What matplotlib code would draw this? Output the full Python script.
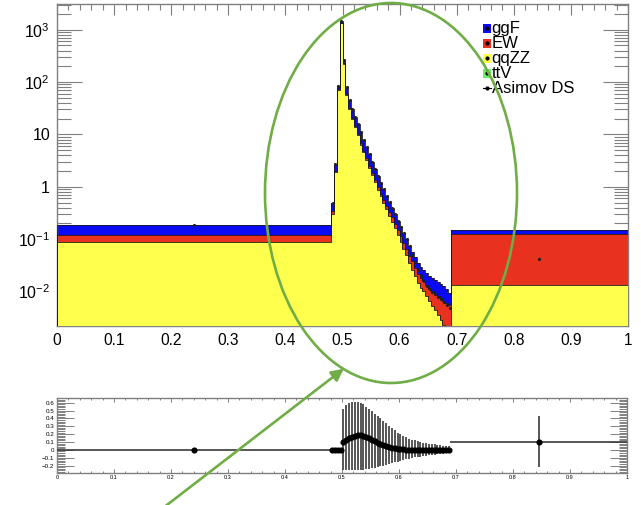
import numpy as np
import matplotlib
matplotlib.use('Agg')
import matplotlib.pyplot as plt
from matplotlib.patches import Ellipse, Rectangle, FancyArrowPatch
from matplotlib.ticker import FixedLocator, FixedFormatter, MultipleLocator, NullFormatter, FuncFormatter

plt.rcParams['font.family'] = ['Liberation Sans', 'DejaVu Sans']
plt.rcParams['mathtext.fontset'] = 'custom'
plt.rcParams['mathtext.rm'] = 'Liberation Sans'
plt.rcParams['mathtext.it'] = 'Liberation Sans:italic'
plt.rcParams['mathtext.bf'] = 'Liberation Sans:bold'

# ---------------- data ----------------
bin_edges = [0.0, 0.48, 0.485, 0.49, 0.495, 0.50, 0.505, 0.51, 0.515, 0.52, 0.525,
             0.53, 0.535, 0.54, 0.545, 0.55, 0.555, 0.56, 0.565, 0.57, 0.575,
             0.58, 0.585, 0.59, 0.595, 0.60, 0.605, 0.61, 0.615, 0.62, 0.625,
             0.63, 0.635, 0.64, 0.645, 0.65, 0.655, 0.66, 0.665, 0.67, 0.675,
             0.68, 0.685, 0.69, 1.0]

qqZZ = [0.089,
        0.30, 1.9, 72, 1320, 226, 57.6, 30.6, 19.5, 13.6, 9.6,
        6.4, 4.56, 3.25, 2.31, 1.65, 1.21, 0.88, 0.66, 0.495, 0.374,
        0.281, 0.216, 0.162, 0.119, 0.090, 0.066, 0.049, 0.035, 0.026, 0.0198,
        0.0147, 0.0119, 0.0101, 0.0083, 0.0066, 0.0054, 0.0045, 0.0036, 0.0029, 0.00225,
        0.00176, 0.00133,
        0.0134]
EW = [0.030,
      0.05, 0.14, 2.6, 30, 5.2, 1.6, 1.35, 0.9, 0.66, 0.48,
      0.44, 0.32, 0.29, 0.21, 0.18, 0.13, 0.11, 0.084, 0.072, 0.061,
      0.052, 0.044, 0.036, 0.029, 0.024, 0.0195, 0.017, 0.0135, 0.0116, 0.009,
      0.0074, 0.0061, 0.0057, 0.0053, 0.0048, 0.0047, 0.0046, 0.0045, 0.0046, 0.0045,
      0.0044, 0.0042,
      0.112]
ggF = [0.066,
       0.15, 0.66, 10.4, 150, 28.8, 20.8, 13.05, 9.6, 7.7, 5.9,
       4.2, 3.1, 2.26, 1.68, 1.17, 0.86, 0.61, 0.456, 0.333, 0.245,
       0.187, 0.14, 0.102, 0.072, 0.056, 0.0445, 0.034, 0.0265, 0.0204, 0.0162,
       0.0129, 0.011, 0.0102, 0.0094, 0.0086, 0.0079, 0.0074, 0.0069, 0.0063, 0.0058,
       0.0048, 0.0040,
       0.023]
asimov = [0.19,
          0.5, 2.7, 85, 1500, 260, 80, 45, 30, 22, 16,
          11, 8.0, 5.8, 4.2, 3.0, 2.2, 1.6, 1.2, 0.9, 0.68,
          0.52, 0.40, 0.30, 0.22, 0.17, 0.13, 0.10, 0.075, 0.050, 0.036,
          0.026, 0.020, 0.016, 0.013, 0.011, 0.0098, 0.0088, 0.0080, 0.0072, 0.0064,
          0.0056, 0.0048,
          0.042]

ratio = [0.0,
         0.0, 0.0, 0.0, 0.0,
         0.10, 0.13, 0.15, 0.17, 0.18, 0.19, 0.19, 0.18, 0.17, 0.15,
         0.13, 0.11, 0.09, 0.07, 0.06, 0.045, 0.035, 0.025, 0.02, 0.015,
         0.01, 0.008, 0.005, 0.003, 0.002, 0.0, 0.0, 0.0, 0.0, 0.0,
         0.0, 0.0, 0.0, 0.0, 0.0, 0.0, 0.0, 0.0,
         0.105]
ratio_hi = [0.02,
            0.03, 0.03, 0.02, 0.02,
            0.52, 0.57, 0.60, 0.61, 0.61, 0.61, 0.60, 0.58, 0.55, 0.52,
            0.49, 0.46, 0.43, 0.40, 0.37, 0.34, 0.31, 0.28, 0.25, 0.22,
            0.20, 0.18, 0.16, 0.14, 0.13, 0.12, 0.11, 0.10, 0.09, 0.085,
            0.08, 0.075, 0.07, 0.065, 0.06, 0.055, 0.05, 0.045,
            0.43]
ratio_lo = [-0.02,
            -0.03, -0.03, -0.02, -0.02,
            -0.25, -0.26, -0.26, -0.26, -0.26, -0.25, -0.25, -0.25, -0.24, -0.24,
            -0.23, -0.23, -0.22, -0.21, -0.20, -0.19, -0.18, -0.17, -0.16, -0.15,
            -0.14, -0.13, -0.12, -0.11, -0.10, -0.095, -0.09, -0.085, -0.08, -0.075,
            -0.07, -0.065, -0.06, -0.055, -0.05, -0.05, -0.045, -0.045,
            -0.22]

legend_labels = ['ggF', 'EW', 'qqZZ', 'ttV', 'Asimov DS']
legend_colors = ['#0a0af5', '#e8321e', '#ffff4d', '#66ee66', None]

main_xticks = [0, 0.1, 0.2, 0.3, 0.4, 0.5, 0.6, 0.7, 0.8, 0.9, 1.0]
main_yticks = [1e-2, 1e-1, 1, 10, 1e2, 1e3]
main_ylabels = [r'$10^{-2}$', r'$10^{-1}$', '1', '10', r'$10^{2}$', r'$10^{3}$']
ratio_yticks = [-0.2, -0.1, 0, 0.1, 0.2, 0.3, 0.4, 0.5, 0.6]

# ---------------- figure ----------------
W, H = 641, 505
fig = plt.figure(figsize=(W / 100, H / 100), dpi=100)
fig.patch.set_facecolor('white')

def fx(px):
    return px / W

def fy(py):
    return 1 - py / H

ax = fig.add_axes([fx(57), fy(326), (628 - 57) / W, (326 - 4) / H])
rax = fig.add_axes([fx(57), fy(472.7), (627 - 57) / W, (472.7 - 398) / H])

edges = np.array(bin_edges)
q = np.array(qqZZ)
e = np.array(EW)
g = np.array(ggF)
c1 = q
c2 = q + e
c3 = q + e + g

ax.set_yscale('log')
base = 1e-5
ax.stairs(c3, edges, fill=True, baseline=base, color=legend_colors[0], zorder=1)
ax.stairs(c2, edges, fill=True, baseline=base, color=legend_colors[1], zorder=2)
ax.stairs(c1, edges, fill=True, baseline=base, color=legend_colors[2], zorder=3)
for vals, z in ((c3, 4), (c2, 5), (c1, 6)):
    ax.stairs(vals, edges, baseline=base, color='#1a1a1a', lw=0.6, zorder=z)

centers = 0.5 * (edges[:-1] + edges[1:])
ax.plot(centers, asimov, 'o', ms=1.3, color='#222222', zorder=8)

ax.set_xlim(0, 1)
ax.set_ylim(2.2e-3, 3100)

grey = '#808080'
for a in (ax, rax):
    for s in a.spines.values():
        s.set_color(grey)
        s.set_linewidth(1.0)

fmt01 = FuncFormatter(lambda v, p: '0' if abs(v) < 1e-9 else ('1' if abs(v - 1) < 1e-9 else '%.1f' % v))
ax.xaxis.set_major_locator(FixedLocator(main_xticks))
ax.xaxis.set_minor_locator(MultipleLocator(0.02))
ax.xaxis.set_major_formatter(fmt01)
ax.yaxis.set_major_locator(FixedLocator(main_yticks))
ax.yaxis.set_major_formatter(FixedFormatter(main_ylabels))
ax.yaxis.set_minor_locator(matplotlib.ticker.LogLocator(base=10, subs=np.arange(2, 10), numticks=20))
ax.yaxis.set_minor_formatter(NullFormatter())
ax.tick_params(axis='both', which='both', direction='in', top=True, right=True, color=grey, width=0.8)
ax.tick_params(axis='x', which='major', length=8, labelsize=11.2, pad=5)
ax.tick_params(axis='x', which='minor', length=4)
ax.tick_params(axis='y', which='major', length=18, labelsize=11.5, pad=5)
ax.tick_params(axis='y', which='minor', length=10)

# legend (drawn manually, ROOT style)
def axp(px, py):
    return ((px - 57) / 571, (326 - py) / 322)

ys = [28.3, 43.3, 58.3, 73.3, 88.3]
for lab, col, yy in zip(legend_labels, legend_colors, ys):
    x0, y0 = axp(483.3, yy + 4.5)
    mx, my = axp(487, yy)
    if col is not None:
        ax.add_patch(Rectangle((x0, y0), 7.6 / 571, 9 / 322, transform=ax.transAxes,
                               facecolor=col, edgecolor='none', zorder=10, clip_on=False))
    else:
        ax.plot([mx - 4 / 571, mx + 4 / 571], [my, my], color='black', lw=0.8,
                transform=ax.transAxes, zorder=11)
    ax.plot([mx], [my], 'o', ms=2.0, color='black', transform=ax.transAxes, zorder=11)
    tx, ty = axp(491.5, yy)
    ax.text(tx, ty, lab, transform=ax.transAxes, fontsize=12, va='center', ha='left',
            color='black', zorder=12)

# ---------------- ratio panel ----------------
r = np.array(ratio)
rhi = np.array(ratio_hi)
rlo = np.array(ratio_lo)
xerr = 0.5 * np.diff(edges)
rax.errorbar(centers, r, xerr=xerr, yerr=[r - rlo, rhi - r], fmt='o', ms=3.4,
             color='black', ecolor='#3a3a3a', elinewidth=1.2, capsize=0, zorder=3)
rax.set_xlim(0, 1)
rax.set_ylim(-0.29, 0.66)
rax.xaxis.set_major_locator(FixedLocator(main_xticks))
rax.xaxis.set_minor_locator(MultipleLocator(0.02))
rax.xaxis.set_major_formatter(fmt01)
rax.yaxis.set_major_locator(FixedLocator(ratio_yticks))
rax.yaxis.set_major_formatter(FuncFormatter(lambda v, p: '0' if abs(v) < 1e-9 else ('%.1f' % v).replace('-', '\u2212')))
rax.yaxis.set_minor_locator(MultipleLocator(0.02))
rax.tick_params(axis='both', which='both', direction='in', top=True, right=True, color=grey, width=0.7)
rax.tick_params(axis='x', which='major', length=3, labelsize=4, pad=2)
rax.tick_params(axis='x', which='minor', length=1.5)
rax.tick_params(axis='y', which='major', length=12, labelsize=4.5, pad=2)
rax.tick_params(axis='y', which='minor', length=6)

# ---------------- annotations ----------------
green = '#70ad47'
ell = Ellipse((fx(391), fy(193)), 252 / W, 380 / H, transform=fig.transFigure,
              fill=False, edgecolor=green, lw=1.9, zorder=20)
fig.add_artist(ell)
arr = FancyArrowPatch((fx(163), fy(508)), (fx(346), fy(367)), transform=fig.transFigure,
                      arrowstyle='-|>', mutation_scale=18, lw=1.9, color=green, zorder=21)
fig.add_artist(arr)

fig.savefig('out.png', dpi=100, facecolor='white')
